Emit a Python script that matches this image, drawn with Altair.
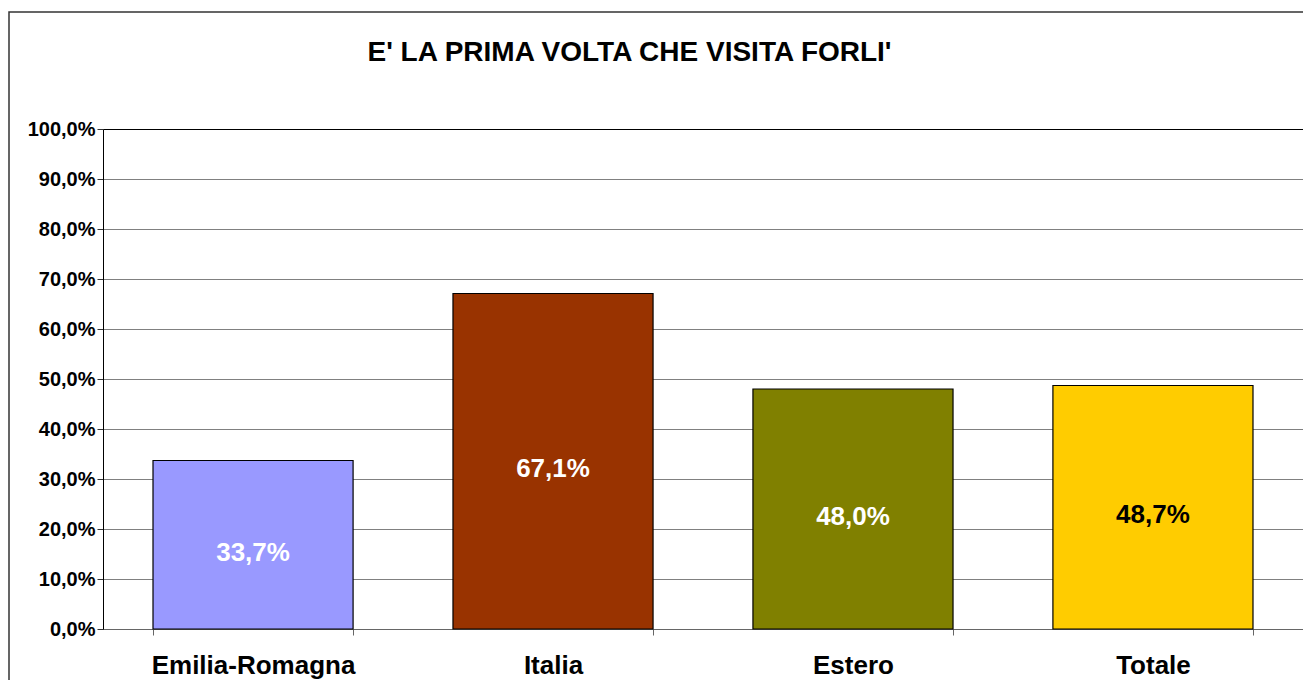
import altair as alt
import pandas as pd

categories = ["Emilia-Romagna", "Italia", "Estero", "Totale"]
values = [33.7, 67.1, 48.0, 48.7]
bar_colors = ["#9999FF", "#993300", "#808000", "#FFCC00"]
label_colors = ["#FFFFFF", "#FFFFFF", "#FFFFFF", "#000000"]
y_ticks = [0, 10, 20, 30, 40, 50, 60, 70, 80, 90, 100]
title_text = "E' LA PRIMA VOLTA CHE VISITA FORLI'"

df = pd.DataFrame({"cat": categories, "val": values, "lblc": label_colors})

FONT = "Liberation Sans"

x_enc = alt.X(
    "cat:N",
    sort=categories,
    scale=alt.Scale(paddingInner=0.333, paddingOuter=0.1667),
    axis=alt.Axis(
        title=None,
        labelAngle=0,
        labelFont=FONT,
        labelFontSize=26,
        labelFontWeight="bold",
        labelColor="#000000",
        labelPadding=17,
        labelLimit=0,
        tickBand="extent",
        tickSize=6,
        tickColor="#666666",
        domainColor="#666666",
        grid=False,
    ),
)

y_scale = alt.Scale(domain=[0, 100], nice=False)

bars = alt.Chart(df).mark_bar(stroke="black", strokeWidth=1.2).encode(
    x=x_enc,
    y=alt.Y(
        "val:Q",
        scale=y_scale,
        axis=alt.Axis(
            title=None,
            values=y_ticks,
            labelExpr="replace(format(datum.value, '.1f'), '.', ',') + '%'",
            labelFont=FONT,
            labelFontSize=20,
            labelFontWeight="bold",
            labelColor="#000000",
            labelPadding=2,
            tickSize=6,
            tickColor="#333333",
            domainColor="#000000",
            gridColor=alt.condition("datum.value == 100", alt.value("#000000"), alt.value("#808080")),
            gridWidth=1.2,
        ),
    ),
    color=alt.Color("cat:N", scale=alt.Scale(domain=categories, range=bar_colors), legend=None),
)

labels = alt.Chart(df).transform_calculate(
    mid="datum.val / 2",
    txt="replace(format(datum.val, '.1f'), '.', ',') + '%'",
).mark_text(
    font=FONT, fontSize=26, fontWeight="bold", baseline="middle", align="center", dy=8
).encode(
    x=alt.X("cat:N", sort=categories),
    y=alt.Y("mid:Q", scale=y_scale),
    text="txt:N",
    color=alt.Color("lblc:N", scale=None),
)

border = alt.Chart(pd.DataFrame({"a": [0]})).mark_rect(
    fill=None, stroke="#333333", strokeWidth=1.5
).encode(
    x=alt.value(-94), x2=alt.value(1400), y=alt.value(-117), y2=alt.value(700)
)

title = alt.Chart(pd.DataFrame({"t": [title_text]})).mark_text(
    font=FONT, fontSize=28, fontWeight="bold", baseline="middle", align="center", color="#000000"
).encode(
    x=alt.value(526.5), y=alt.value(-76), text="t:N"
)

chart = alt.layer(bars, labels, border, title).properties(
    width=1200,
    height=500,
    autosize=alt.AutoSizeParams(type="none"),
    padding={"left": 95, "top": 121, "right": 0, "bottom": 51},
).configure_view(stroke=None).configure(background="white")

chart.save("out.html", embed_options={"renderer": "svg", "actions": False})
